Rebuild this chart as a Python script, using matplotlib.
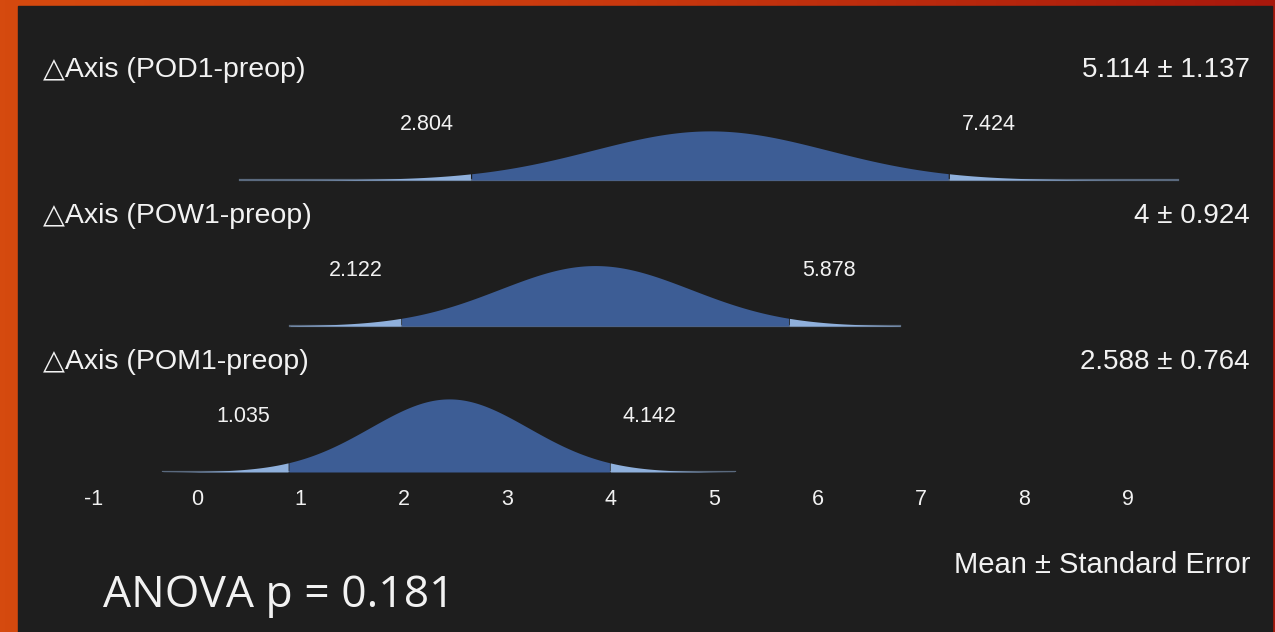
import numpy as np
import matplotlib.pyplot as plt
from matplotlib.patches import Rectangle
from matplotlib.colors import LinearSegmentedColormap
from matplotlib.transforms import ScaledTranslation

plt.rcParams['font.family'] = ['Liberation Sans', 'DejaVu Sans']
plt.rcParams['axes.unicode_minus'] = False

# group summaries
names = ['△Axis (POD1-preop)', '△Axis (POW1-preop)', '△Axis (POM1-preop)']
means = [5.114, 4.0, 2.588]
ses = [1.137, 0.924, 0.764]
ci_lo = [2.804, 2.122, 1.035]
ci_hi = [7.424, 5.878, 4.142]
# range over which each curve is drawn
x_from = [0.57, 1.05, -0.18]
x_to = [9.64, 6.95, 5.35]
ticks = [-1, 0, 1, 2, 3, 4, 5, 6, 7, 8, 9]
anova_p = 0.181

W, H = 1275, 632
BG = '#1e1e1e'
DARK = '#3d5d95'
LIGHT = '#8fb0dc'
BASE = '#5a697d'
TXT = '#f2f2f2'

fig = plt.figure(figsize=(W / 100, H / 100), dpi=100)

# orange-to-red frame with a dark slide panel on top
bgax = fig.add_axes([0, 0, 1, 1])
grad = np.linspace(0, 1, 256)[None, :]
frame = LinearSegmentedColormap.from_list('frame', ['#d54a0f', '#c8380e', '#a8180c'])
bgax.imshow(grad, cmap=frame, aspect='auto', extent=[0, W, H, 0])
bgax.add_patch(Rectangle((18, 6), 1254, H - 6, color=BG))
bgax.set_xlim(0, W)
bgax.set_ylim(H, 0)
bgax.axis('off')

# main axes: x in data units, y in pixel rows down to the last baseline
px_per_unit = 103.4
x0 = 0.15 - 197 / px_per_unit
x1 = x0 + W / px_per_unit
ybot = 472
ax = fig.add_axes([0, (H - ybot) / H, 1, ybot / H])
ax.set_xlim(x0, x1)
ax.set_ylim(ybot, 0)
ax.patch.set_alpha(0)
for s in ax.spines.values():
    s.set_visible(False)
ax.set_yticks([])
ax.set_xticks(ticks)
ax.set_xticklabels([str(t) for t in ticks])
ax.tick_params(axis='x', length=0, pad=12, labelsize=15.5, labelcolor=TXT)
shift = ScaledTranslation(0.155, 0, fig.dpi_scale_trans)
for lab in ax.get_xticklabels():
    lab.set_transform(lab.get_transform() + shift)

baselines = [180, 326, 472]
dens_px = 140  # pixels per unit of density

for i in range(3):
    b = baselines[i]
    m, se = means[i], ses[i]
    x = np.linspace(x_from[i], x_to[i], 800)
    pdf = np.exp(-0.5 * ((x - m) / se) ** 2) / (se * np.sqrt(2 * np.pi))
    y = b - dens_px * pdf
    inside = (x >= ci_lo[i]) & (x <= ci_hi[i])
    ax.plot([x_from[i], x_to[i]], [b, b], color=BASE, lw=1.6, zorder=1)
    ax.fill_between(x, b, y, where=(x <= ci_lo[i]), color=LIGHT, lw=0, zorder=2)
    ax.fill_between(x, b, y, where=(x >= ci_hi[i]), color=LIGHT, lw=0, zorder=2)
    ax.fill_between(x, b, y, where=inside, color=DARK, lw=0, zorder=3)

    ax.annotate(f'{ci_lo[i]:.3f}', (ci_lo[i], b - 55), xytext=(-45, 0),
                textcoords='offset pixels', ha='center', va='center',
                fontsize=15.5, color=TXT)
    ax.annotate(f'{ci_hi[i]:.3f}', (ci_hi[i], b - 55), xytext=(40, 0),
                textcoords='offset pixels', ha='center', va='center',
                fontsize=15.5, color=TXT)

    fig.text(43 / W, 1 - (b - 110) / H, names[i], ha='left', va='center',
             fontsize=20.5, color=TXT)
    fig.text(1250 / W, 1 - (b - 110) / H, f'{m:g} ± {se:g}', ha='right',
             va='center', fontsize=20, color=TXT)

fig.text(1250 / W, 1 - 565 / H, 'Mean ± Standard Error', ha='right',
         va='center', fontsize=21, color=TXT)
fig.text(103 / W, 1 - 596 / H, f'ANOVA p = {anova_p}', ha='left',
         va='center', fontsize=32, color=TXT, family='Open Sans')

fig.savefig('out.png', dpi=100)
